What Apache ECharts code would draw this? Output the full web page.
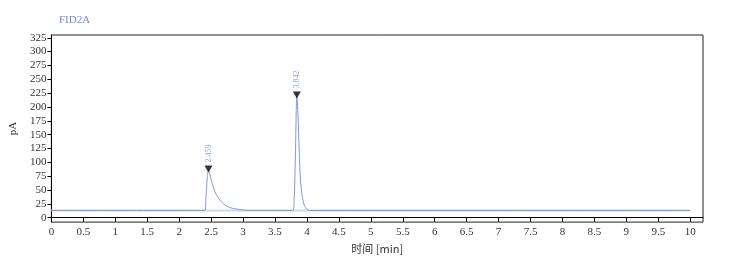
<!DOCTYPE html>
<html>
<head>
<meta charset="utf-8">
<script src="https://cdn.jsdelivr.net/npm/echarts@6/dist/echarts.min.js"></script>
<style>html,body{margin:0;padding:0;background:#fff}#c{width:748px;height:259px}</style>
</head>
<body>
<div id="c"></div>
<script>
// Trace (time in min, signal in pA)
var times   = [0, 2.40, 2.42, 2.44, 2.459, 2.48, 2.50, 2.53, 2.56, 2.60, 2.65, 2.70, 2.75, 2.80, 2.90, 3.00, 3.08,
               3.78, 3.80, 3.82, 3.842, 3.86, 3.88, 3.90, 3.93, 3.96, 4.00, 4.06, 10.0];
var signal  = [13, 13, 38, 72, 86, 79, 69, 57, 47, 38, 30, 24.5, 20.5, 18, 15.5, 14, 13,
               13, 32, 115, 220, 185, 118, 66, 36, 22, 15.5, 13, 13];
var peakTimes  = [2.459, 3.842];
var peakHeights = [86, 220];
var peakLabels = ["2.459", "3.842"];
var baselineTimes = [0, 10.0];
var baselineValues = [13, 13];
var xTicks = [0,0.5,1,1.5,2,2.5,3,3.5,4,4.5,5,5.5,6,6.5,7,7.5,8,8.5,9,9.5,10];
var yTicks = [0,25,50,75,100,125,150,175,200,225,250,275,300,325];

var font = '"Liberation Serif", "Noto Sans CJK SC", serif';
var chart = echarts.init(document.getElementById('c'));
chart.setOption({
  animation: false,
  title: {text: 'FID2A', left: 54, top: 10, textStyle: {fontSize: 11, fontWeight: 'normal', color: '#6f8fd6', fontFamily: font}},
  grid: {left: 50, top: 35, right: 45, bottom: 34, show: true, borderColor: '#222', borderWidth: 1},
  xAxis: {
    type: 'value', min: 0, max: 10.2,
    name: '时间 [min]', nameLocation: 'middle', nameGap: 20,
    nameTextStyle: {fontSize: 11, color: '#333', fontFamily: '"Noto Sans CJK SC", serif'},
    axisLine: {show: true, lineStyle: {color: '#000', width: 1}},
    axisTick: {show: true, customValues: xTicks, length: 4, lineStyle: {color: '#000'}},
    axisLabel: {customValues: xTicks, fontSize: 11, color: '#333', margin: 5, fontFamily: font,
                formatter: function(v){return String(v);}},
    splitLine: {show: false}
  },
  yAxis: {
    type: 'value', min: -8, max: 330,
    name: 'pA', nameLocation: 'middle', nameGap: 30, nameRotate: 90,
    nameTextStyle: {fontSize: 11, color: '#333', fontFamily: font},
    axisLine: {show: true, lineStyle: {color: '#000', width: 1}},
    axisTick: {show: true, customValues: yTicks, length: 4, lineStyle: {color: '#000'}},
    axisLabel: {customValues: yTicks, fontSize: 11, color: '#333', margin: 5, fontFamily: font},
    splitLine: {show: false}
  },
  series: [
    {type: 'line', data: baselineTimes.map(function(t,i){return [t, baselineValues[i]];}),
     symbol: 'none', lineStyle: {color: '#cdd8ea', width: 2}, z: 1},
    {type: 'line', data: times.map(function(t,i){return [t, signal[i]];}),
     symbol: 'none', smooth: 0.3, lineStyle: {color: '#7d9ad6', width: 1}, z: 2},
    {type: 'scatter', data: peakTimes.map(function(t,i){return [t, peakHeights[i]];}),
     symbol: 'triangle', symbolRotate: 180, symbolSize: [8, 7], symbolOffset: [0, -1],
     itemStyle: {color: '#000'}, z: 3,
     label: {show: true, position: 'top', rotate: 90, distance: 3, align: 'left', verticalAlign: 'middle',
             fontSize: 8, color: '#6f8fd6', fontFamily: font,
             formatter: function(p){return peakLabels[p.dataIndex];}}}
  ]
});
</script>
</body>
</html>
